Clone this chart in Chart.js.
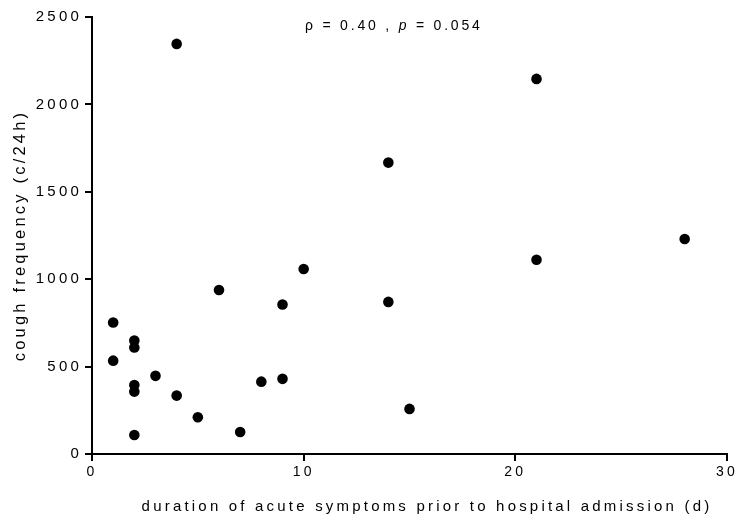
<!DOCTYPE html>
<html>
<head>
<meta charset="utf-8">
<script src="https://cdn.jsdelivr.net/npm/chart.js@4"></script>
<style>
  html, body { margin: 0; padding: 0; background: #fff; }
  #wrap { width: 741px; height: 518px; }
</style>
</head>
<body>
<div id="wrap"><canvas id="c" width="741" height="518"></canvas></div>
<script>
// Data
const durationDays = [1, 1, 2, 2, 2, 2, 2, 3, 4, 4, 5, 6, 7, 8, 9, 9, 10, 14, 14, 15, 21, 21, 28];
const coughPer24h  = [752, 534, 649, 609, 395, 357, 109, 447, 2346, 334, 210, 938, 126, 414, 855, 430, 1058, 1667, 870, 258, 2146, 1111, 1230];
const xTickValues = [0, 10, 20, 30];
const yTickValues = [0, 500, 1000, 1500, 2000, 2500];
const xTitle = 'duration of acute symptoms prior to hospital admission (d)';
const yTitle = 'cough frequency (c/24h)';
const statParts = [
  { text: 'ρ = 0.40 , ', italic: false },
  { text: 'p', italic: true },
  { text: ' = 0.054', italic: false }
];

const FONT = '"Liberation Sans", Arial, sans-serif';
const SPACING = '3.2px';

const points = durationDays.map((d, i) => ({ x: d, y: coughPer24h[i] }));

const spacingPlugin = {
  id: 'spacing',
  beforeLayout(chart) { chart.ctx.letterSpacing = SPACING; },
  beforeDraw(chart) { chart.ctx.letterSpacing = SPACING; }
};

const textPlugin = {
  id: 'texts',
  afterDraw(chart) {
    const ctx = chart.ctx;
    const area = chart.chartArea;
    ctx.save();
    ctx.fillStyle = '#000';
    ctx.textBaseline = 'middle';
    // statistics annotation
    ctx.letterSpacing = '2.8px';
    ctx.textAlign = 'left';
    let x = area.left + 213;
    const y = area.top + 9;
    statParts.forEach(p => {
      ctx.font = (p.italic ? 'italic ' : '') + '14px ' + FONT;
      ctx.fillText(p.text, x, y);
      x += ctx.measureText(p.text).width;
    });
    // x-axis title
    ctx.letterSpacing = SPACING;
    ctx.font = '15px ' + FONT;
    ctx.textAlign = 'center';
    ctx.fillText(xTitle, area.left + 335, area.bottom + 53);
    ctx.restore();
  }
};

new Chart(document.getElementById('c'), {
  type: 'scatter',
  data: {
    datasets: [{
      data: points,
      backgroundColor: '#000',
      borderColor: '#000',
      pointRadius: 5.3,
      pointHoverRadius: 5.3,
      borderWidth: 0
    }]
  },
  options: {
    responsive: false,
    animation: false,
    events: [],
    layout: { padding: { left: 0, top: 17, right: 11, bottom: 0 } },
    plugins: {
      legend: { display: false },
      tooltip: { enabled: false }
    },
    scales: {
      x: {
        type: 'linear',
        min: 0, max: 30,
        afterBuildTicks(scale) { scale.ticks = xTickValues.map(v => ({ value: v })); },
        afterFit(scale) { scale.height = 64; },
        border: { display: true, color: '#000', width: 2 },
        grid: { drawOnChartArea: false, drawTicks: true, tickLength: 7, color: '#000', lineWidth: 2 },
        ticks: { color: '#000', font: { family: FONT, size: 14 }, padding: 3, maxRotation: 0, callback: v => String(v) },
        title: { display: false }
      },
      y: {
        type: 'linear',
        min: 0, max: 2500,
        afterBuildTicks(scale) { scale.ticks = yTickValues.map(v => ({ value: v })); },
        afterFit(scale) { scale.width = 92; },
        border: { display: true, color: '#000', width: 2 },
        grid: { drawOnChartArea: false, drawTicks: true, tickLength: 7, color: '#000', lineWidth: 2 },
        ticks: { color: '#000', font: { family: FONT, size: 15 }, padding: 3, callback: v => String(v) },
        title: {
          display: true, text: yTitle, color: '#000',
          font: { family: FONT, size: 16.5 },
          padding: { top: 11, bottom: 0 }
        }
      }
    }
  },
  plugins: [spacingPlugin, textPlugin]
});
</script>
</body>
</html>
